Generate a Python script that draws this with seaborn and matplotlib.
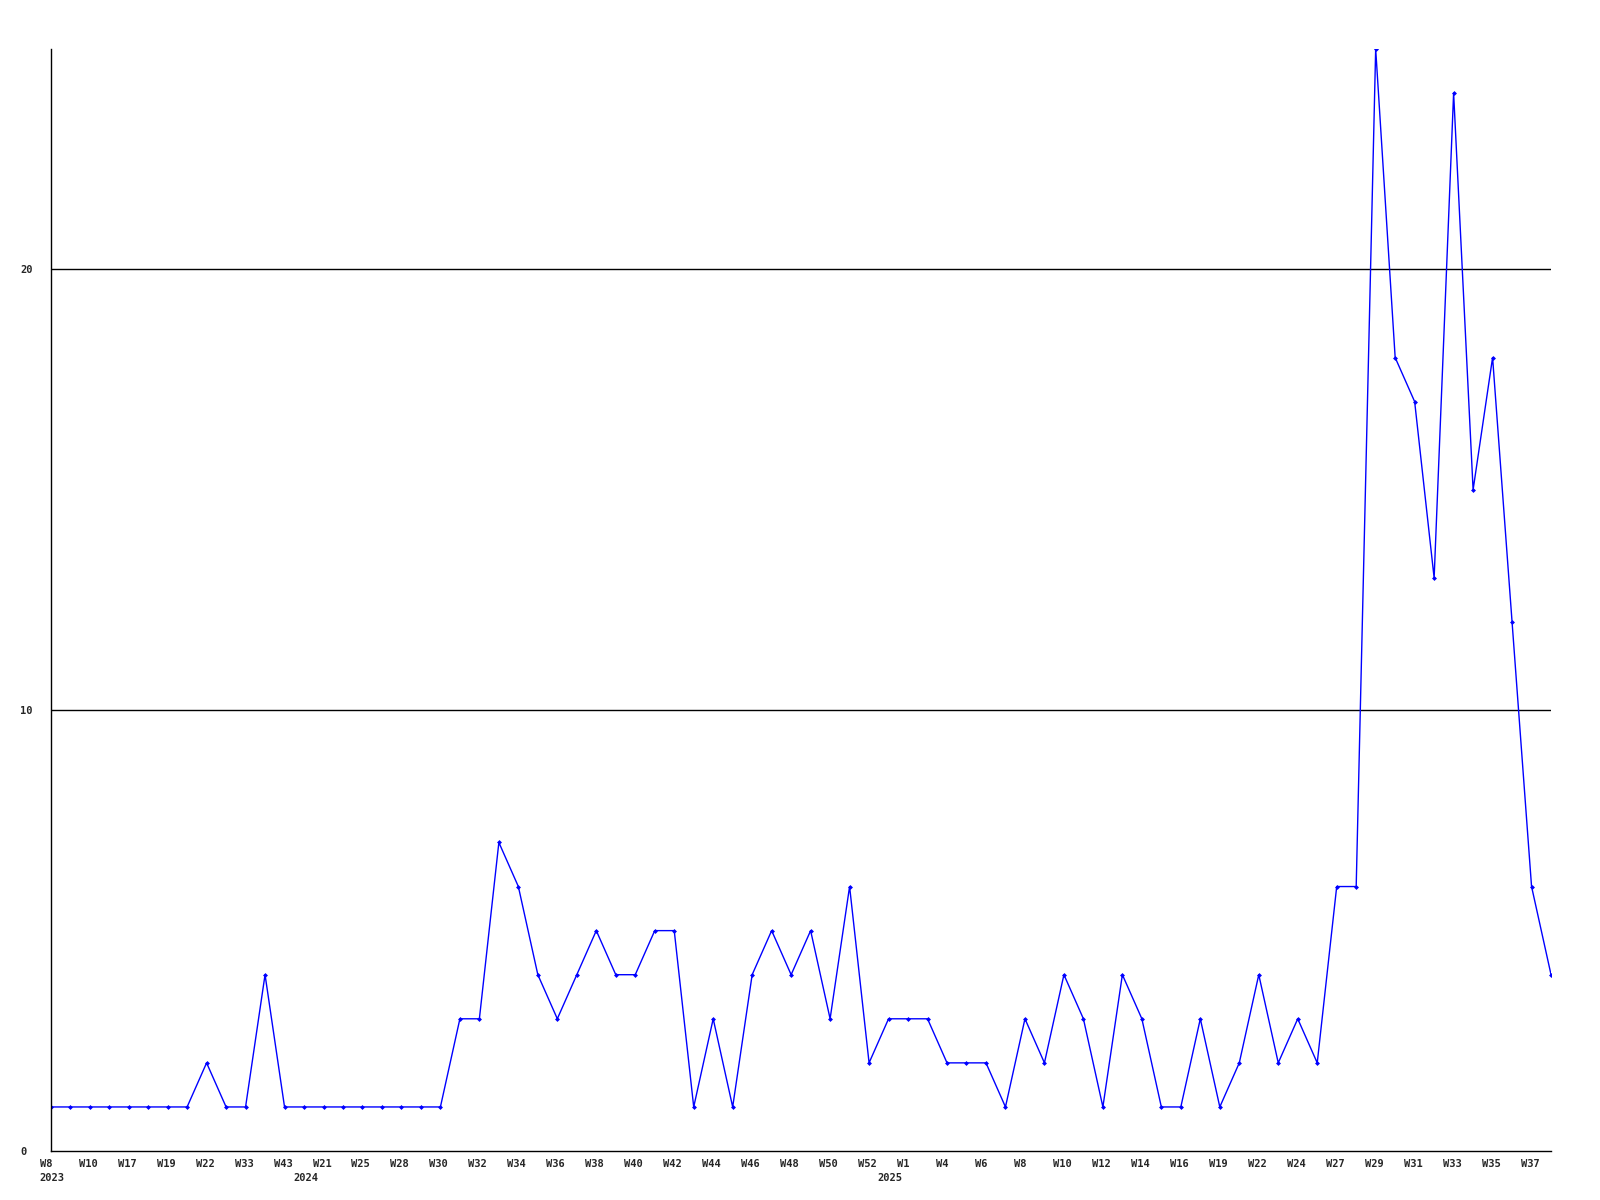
import numpy as np
import pandas as pd
import seaborn as sns
import matplotlib.pyplot as plt
import matplotlib.transforms as mtransforms

# weekly counts, one point per week that has data
counts = [1, 1, 1, 1, 1, 1, 1, 1, 2, 1, 1, 4, 1, 1, 1, 1, 1, 1, 1, 1,
          1, 3, 3, 7, 6, 4, 3, 4, 5, 4, 4, 5, 5, 1, 3, 1, 4, 5, 4, 5,
          3, 6, 2, 3, 3, 3, 2, 2, 2, 1, 3, 2, 4, 3, 1, 4, 3, 1, 1, 3,
          1, 2, 4, 2, 3, 2, 6, 6, 25, 18, 17, 13, 24, 15, 18, 12, 6, 4]

# labels shown on every second point
week_labels = ['W8', 'W10', 'W17', 'W19', 'W22', 'W33', 'W43', 'W21', 'W25', 'W28',
               'W30', 'W32', 'W34', 'W36', 'W38', 'W40', 'W42', 'W44', 'W46', 'W48',
               'W50', 'W52', 'W1', 'W4', 'W6', 'W8', 'W10', 'W12', 'W14', 'W16',
               'W19', 'W22', 'W24', 'W27', 'W29', 'W31', 'W33', 'W35', 'W37']
# first point of each year
year_pos = [0, 13, 43]
year_labels = ['2023', '2024', '2025']

y_ticks = [0, 10, 20]

df = pd.DataFrame({'idx': np.arange(len(counts)), 'count': counts})

sns.set_style('white')
plt.rcParams['font.family'] = ['DejaVu Sans Mono']

fig = plt.figure(figsize=(16, 12), dpi=100)
ax = fig.add_axes([0.0317, 0.0408, 0.9377, 0.9184])

sns.lineplot(x='idx', y='count', data=df, ax=ax, color='#0000ff', linewidth=1,
             marker='D', markersize=2.5, markeredgewidth=0)

# week labels on every second point, years as minor ticks underneath
week_pos = list(range(0, len(counts), 2))
ax.set_xticks(week_pos)
ax.set_xticklabels(week_labels, fontsize=7.5, fontweight='bold', ha='left')
ax.xaxis.remove_overlapping_locs = False
ax.set_xticks(year_pos, minor=True)
ax.set_xticklabels(year_labels, minor=True, fontsize=7.5, fontweight='bold', ha='left')

ax.set_yticks(y_ticks)
ax.set_yticklabels([str(v) for v in y_ticks], fontsize=7.5, fontweight='bold', ha='left')
ax.tick_params(axis='y', length=0, pad=22)
ax.tick_params(axis='x', which='major', length=0, pad=6)
ax.tick_params(axis='x', which='minor', length=0, pad=16)

# shift week labels so they start a little left of their point
offset = mtransforms.ScaledTranslation(-11 / 100, 0, fig.dpi_scale_trans)
for lbl in ax.get_xticklabels():
    lbl.set_transform(lbl.get_transform() + offset)
year_offset = mtransforms.ScaledTranslation(-11 / 100, 0, fig.dpi_scale_trans)
for lbl in ax.get_xticklabels(minor=True):
    lbl.set_transform(lbl.get_transform() + year_offset)

ax.set_xlim(0, len(counts) - 1)
ax.set_ylim(0, 25)

for v in y_ticks[1:]:
    ax.axhline(v, color='black', linewidth=1, zorder=0)

for side in ['top', 'right']:
    ax.spines[side].set_visible(False)
for side in ['left', 'bottom']:
    ax.spines[side].set_color('black')
    ax.spines[side].set_linewidth(1)

ax.set_xlabel('')
ax.set_ylabel('')

plt.savefig('out.png', dpi=100)
